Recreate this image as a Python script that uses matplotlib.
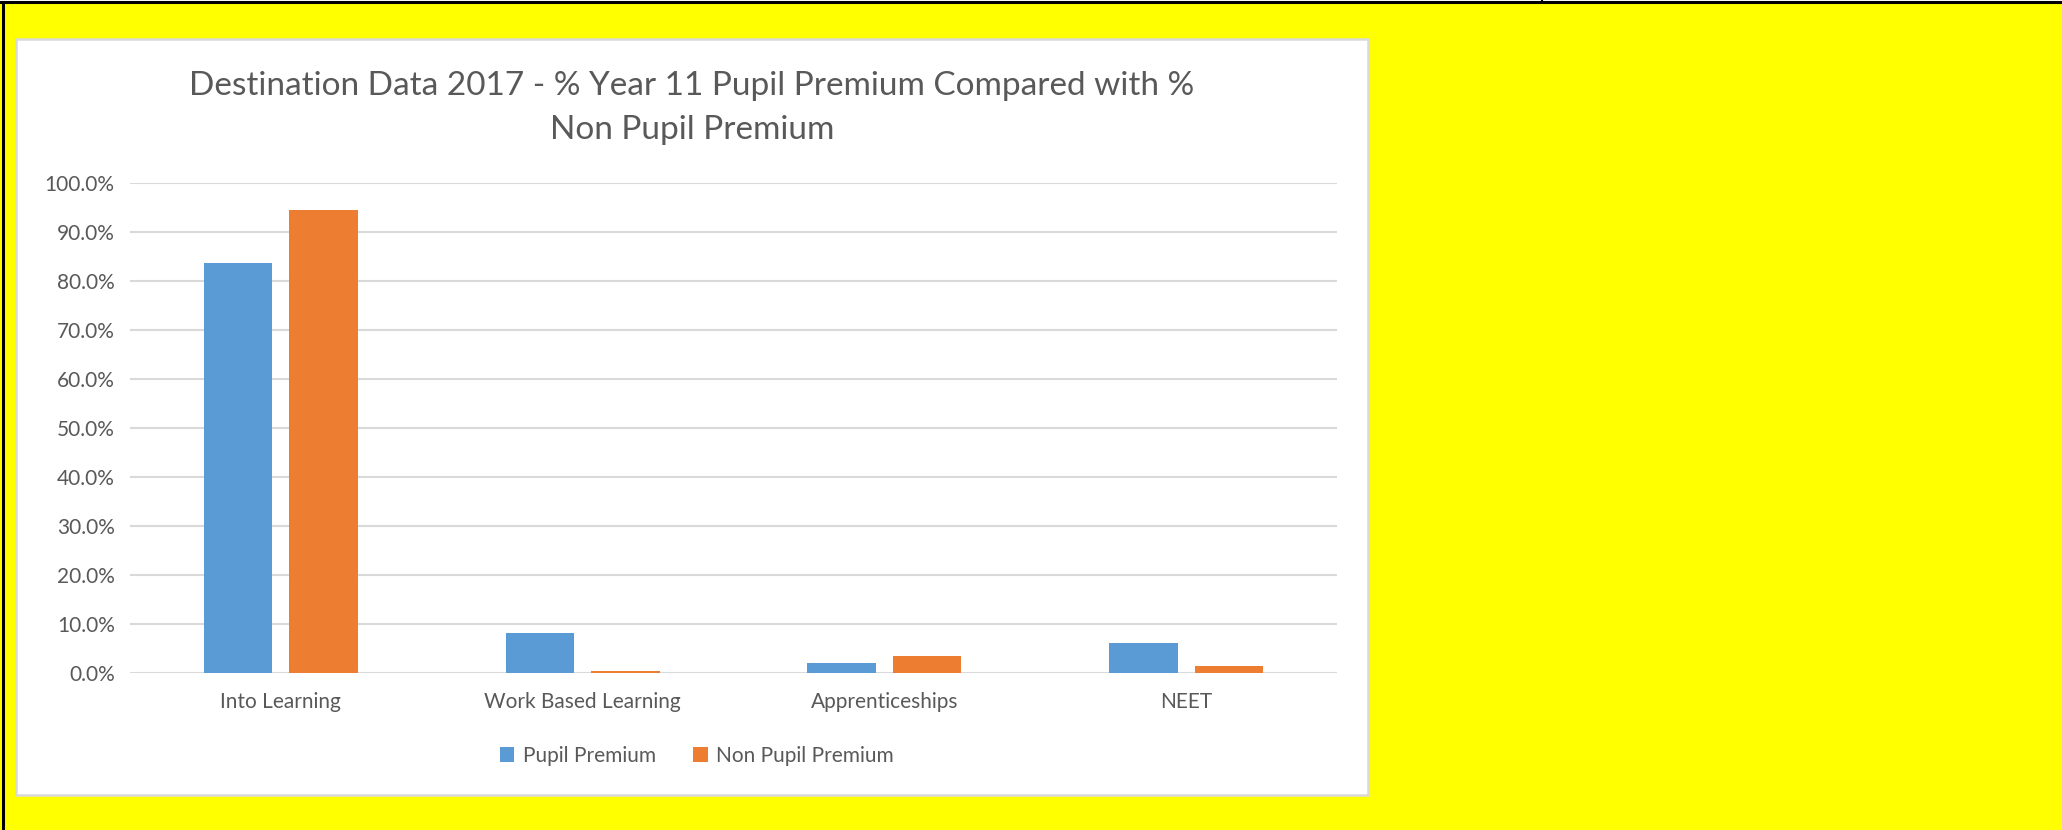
import numpy as np
import matplotlib.pyplot as plt
from matplotlib.patches import Rectangle
from matplotlib.lines import Line2D
from matplotlib.ticker import FuncFormatter

plt.rcParams['font.family'] = ['Lato', 'DejaVu Sans']

# data (as fractions)
categories = ['Into Learning', 'Work Based Learning', 'Apprenticeships', 'NEET']
pupil_premium = [0.836, 0.081, 0.020, 0.061]
non_pupil_premium = [0.945, 0.004, 0.035, 0.014]
series_names = ['Pupil Premium', 'Non Pupil Premium']
title = 'Destination Data 2017 - % Year 11 Pupil Premium Compared with %\nNon Pupil Premium'

blue = '#5B9BD5'
orange = '#ED7D31'
grey_text = '#595959'
grid_grey = '#D9D9D9'

W, H = 2062, 830
fig = plt.figure(figsize=(W / 100, H / 100), dpi=100, facecolor='#FFFF00')

def fx(px):
    return px / W

def fy(py):
    return 1 - py / H

# page decoration: thin white strip at top, black rules
fig.add_artist(Rectangle((0, fy(1.5)), 1, 1.5 / H, transform=fig.transFigure,
                         facecolor='white', edgecolor='none', zorder=-10))
fig.add_artist(Line2D([0, 1], [fy(2.5), fy(2.5)], transform=fig.transFigure,
                      color='black', lw=2.2, zorder=-9))
fig.add_artist(Line2D([fx(2.5), fx(2.5)], [0, fy(2.5)], transform=fig.transFigure,
                      color='black', lw=2.2, zorder=-9))
fig.add_artist(Line2D([fx(1542), fx(1542)], [fy(2.5), 1], transform=fig.transFigure,
                      color='black', lw=1.5, zorder=-9))

# chart box
fig.add_artist(Rectangle((fx(16), fy(795)), (1368 - 16) / W, (795 - 39) / H,
                         transform=fig.transFigure, facecolor='white',
                         edgecolor=grid_grey, lw=1.8, zorder=-8))

ax = fig.add_axes([fx(130), fy(673), (1337 - 130) / W, (673 - 183) / H])
ax.patch.set_alpha(0)

x = np.arange(len(categories))
w = 0.227
off = 0.142
ax.bar(x - off, pupil_premium, w, color=blue, label=series_names[0], zorder=3)
ax.bar(x + off, non_pupil_premium, w, color=orange, label=series_names[1], zorder=3)

ax.set_xlim(-0.5, len(categories) - 0.5)
ax.set_ylim(0, 1)
ax.set_yticks(np.arange(0, 1.001, 0.1))
ax.yaxis.set_major_formatter(FuncFormatter(lambda v, p: f'{v * 100:.1f}%'))
ax.set_xticks(x)
ax.set_xticklabels(categories)
ax.grid(axis='y', color=grid_grey, lw=1.5, zorder=0)
for s in ax.spines.values():
    s.set_visible(False)
ax.tick_params(axis='y', length=0, pad=11, labelsize=15, labelcolor=grey_text)
ax.tick_params(axis='x', length=0, pad=14, labelsize=15, labelcolor=grey_text)

fig.text(fx(692), fy(108), title, ha='center', va='center', fontsize=24,
         color=grey_text, linespacing=1.6)

fig.legend(loc='center', bbox_to_anchor=(fx(697), fy(756)), ncol=2, frameon=False,
           fontsize=15, labelcolor=grey_text, handlelength=0.7, handleheight=0.7,
           handletextpad=0.4, columnspacing=1.8)

fig.savefig('out.png', dpi=100, facecolor=fig.get_facecolor())
